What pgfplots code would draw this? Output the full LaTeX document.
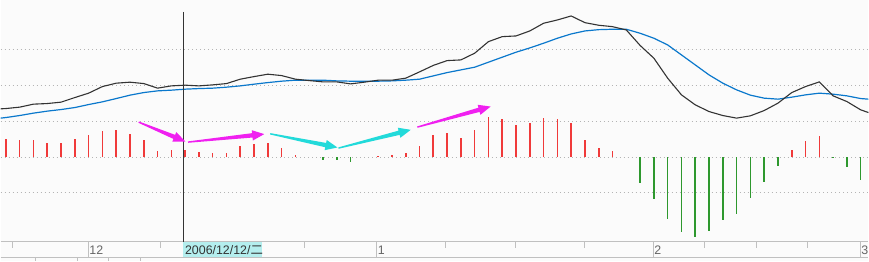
\documentclass[border=0pt]{standalone}
\usepackage{fontspec}
\setmainfont{Liberation Sans}
\newfontfamily\cjk{Noto Sans CJK SC}
\usepackage{pgfplots}
\pgfplotsset{compat=1.18}
\usetikzlibrary{calc}
\definecolor{bg}{HTML}{FBFBFB}
\definecolor{gridc}{HTML}{B4B4B4}
\definecolor{barred}{HTML}{F03A3A}
\definecolor{bargreen}{HTML}{2E982E}
\definecolor{difc}{HTML}{333333}
\definecolor{deac}{HTML}{0A78CC}
\definecolor{strip}{HTML}{C0C0C0}
\definecolor{hilite}{HTML}{B4EEEE}
\definecolor{labc}{HTML}{666666}
\definecolor{mag}{HTML}{F020F0}
\definecolor{cya}{HTML}{22DADA}
\newcommand{\tarrow}[3]{%
  \fill[#1] ($(#2)!0.35pt!90:(#3)$) -- ($($(#3)!6pt!(#2)$)!1.1pt!90:(#3)$) -- ($($(#3)!6pt!(#2)$)!2.6pt!90:(#3)$) -- (#3)
    -- ($($(#3)!6pt!(#2)$)!2.6pt!-90:(#3)$) -- ($($(#3)!6pt!(#2)$)!1.1pt!-90:(#3)$) -- ($(#2)!0.35pt!-90:(#3)$) -- cycle;}
\begin{document}
\begin{tikzpicture}
\begin{axis}[
  x=6.903pt, y=0.5pt,
  xmin=-0.384, xmax=62.56, ymin=-103.7, ymax=157.3,
  axis line style={draw=none},
  xtick=\empty, ytick=\empty,
  tick style={draw=none},
  major tick length=0pt,
  axis background/.style={fill=bg},
  clip=false,
]
% dotted grid
\pgfplotsinvokeforeach{-35.9,0,35.9,71.8,107.7}{
  \draw[gridc, line width=0.5pt, dash pattern=on 0.5pt off 1.5pt] (axis cs:-0.384,#1) -- (axis cs:62.56,#1);}
% histogram bars
\addplot[ycomb, draw=barred, line width=0.8pt, mark=none] coordinates {
(0,18.3)(1,17.3)(2,17.3)(3,14.3)(4,14.3)(5,18.3)(6,22.3)(7,26.3)(8,27.3)(9,23.3)
(10,17.3)(11,6.3)(12,7.3)(13,7.3)(14,5.3)(15,4.3)(16,4.3)(17,11.3)(18,13.3)(19,14.3)
(20,9.3)(21,2.3)(27,0.7)(28,1.7)(29,4.3)(30,11.3)(31,22.3)(32,24.3)(33,19.3)(34,27.3)
(35,40.3)(36,38.3)(37,32.3)(38,34.3)(39,39.3)(40,38.3)(41,34.6)(42,17.3)(43,9.3)(44,6.3)
(57,7.3)(58,16.3)(59,21.3)};
\addplot[ycomb, draw=bargreen, line width=0.8pt, mark=none] coordinates {
(23,-2.7)(24,-2.7)(25,-4.7)(46,-26.4)(47,-42.4)(48,-62.4)(49,-75.4)(50,-80.4)
(51,-74.4)(52,-63.4)(53,-57.4)(54,-41.4)(55,-25.4)(56,-9.4)(60,-1.4)(61,-10.4)(62,-23.4)};
% DEA (signal)
\addplot[deac, line width=0.6pt, mark=none] coordinates {
(-0.384,39)(0,39.6)(1,41.6)(2,44)(3,46)(4,47.6)(5,49.6)(6,52.6)(7,55.3)(8,58.6)(9,62)
(10,64.6)(11,66.3)(12,67)(13,68)(14,68.6)(15,69)(16,70)(17,71.3)(18,73)(19,74.6)
(20,76)(21,77)(22,77)(23,77)(24,76.3)(25,76)(26,76)(27,76)(28,76.3)(29,77)
(30,78)(31,81.3)(32,84.6)(33,87.3)(34,90)(35,95)(36,100)(37,105)(38,109.3)(39,114)
(40,119)(41,123.3)(42,126.3)(43,127.6)(44,128)(45,128)(46,124)(47,119)(48,112.3)(49,102.3)
(50,92.3)(51,82.3)(52,74)(53,67.3)(54,62)(55,59)(56,58)(57,60)(58,62.3)(59,64)
(60,63)(61,61.3)(62,58.6)(62.56,58)};
% DIF
\addplot[difc, line width=0.55pt, mark=none] coordinates {
(-0.384,48.3)(0,48.6)(1,50)(2,53)(3,53.6)(4,55)(5,59.6)(6,64)(7,70.6)(8,74)(9,75)
(10,73.6)(11,69)(12,71.3)(13,72)(14,71.3)(15,72.3)(16,73.6)(17,78)(18,80.6)(19,83)
(20,81.6)(21,78)(22,76.6)(23,75.3)(24,75.3)(25,73.3)(26,75)(27,77)(28,77)(29,79)
(30,85.3)(31,91.8)(32,96.6)(33,97.3)(34,104)(35,115.6)(36,120.6)(37,121.3)(38,126.3)(39,134)
(40,137.3)(41,141.3)(42,134.6)(43,132)(44,130.6)(45,127.3)(46,111.8)(47,99)(48,79)(49,62.3)
(50,52.3)(51,45.6)(52,41.6)(53,39)(54,41.3)(55,46.6)(56,54)(57,64.6)(58,70.6)(59,75.3)
(60,61.3)(61,55.6)(62,47.3)(62.56,44.6)};
% date axis strip
\draw[strip, line width=0.5pt] (axis cs:-0.384,-84.7) -- (axis cs:62.56,-84.7);
\draw[strip, line width=0.5pt] (axis cs:-0.384,-100.7) -- (axis cs:62.56,-100.7);
\fill[hilite] (axis cs:12.87,-85.3) rectangle (axis cs:18.557,-100.4);
\pgfplotsinvokeforeach{5.968,26.901,46.936,61.958}{
  \draw[strip, line width=0.5pt] (axis cs:#1,-84.7) -- (axis cs:#1,-100.7);}
\pgfplotsinvokeforeach{0.464,11.205,21.657,31.899,36.969,41.938,50.703,54.469,58.163}{
  \draw[strip, line width=0.5pt] (axis cs:#1,-84.7) -- (axis cs:#1,-90.7);}
\pgfplotsinvokeforeach{2.151,5.172,7.46,9.757}{
  \draw[strip, line width=0.5pt] (axis cs:#1,-100.7) -- (axis cs:#1,-103.7);}
\node[anchor=west, inner sep=0pt, text=labc, font=\fontsize{6.2pt}{7pt}\selectfont] at (axis cs:6.03,-92.9) {12};
\node[anchor=west, inner sep=0pt, text=labc, font=\fontsize{6.2pt}{7pt}\selectfont] at (axis cs:26.96,-92.9) {1};
\node[anchor=west, inner sep=0pt, text=labc, font=\fontsize{6.2pt}{7pt}\selectfont] at (axis cs:47.0,-92.9) {2};
\node[anchor=west, inner sep=0pt, text=labc, font=\fontsize{6.2pt}{7pt}\selectfont] at (axis cs:62.02,-92.9) {3};
\node[anchor=west, inner sep=0pt, text=difc, font=\fontsize{6.2pt}{7pt}\selectfont] at (axis cs:12.97,-92.9) {2006/12/12/{\cjk 二}};
% crosshair
\draw[difc, line width=0.5pt] (axis cs:12.9,145.3) -- (axis cs:12.9,-84.7);
% annotation arrows
\coordinate (a1) at (axis cs:9.633,35);   \coordinate (b1) at (axis cs:13.016,15.6);
\coordinate (a2) at (axis cs:13.211,15);  \coordinate (b2) at (axis cs:18.738,23);
\coordinate (a3) at (axis cs:19.173,23.3);\coordinate (b3) at (axis cs:24.047,9.6);
\coordinate (a4) at (axis cs:24.12,9);    \coordinate (b4) at (axis cs:29.364,27.3);
\coordinate (a5) at (axis cs:29.842,30);  \coordinate (b5) at (axis cs:35.158,50.6);
\end{axis}
\tarrow{mag}{a1}{b1}
\tarrow{mag}{a2}{b2}
\tarrow{cya}{a3}{b3}
\tarrow{cya}{a4}{b4}
\tarrow{mag}{a5}{b5}
\end{tikzpicture}
\end{document}
